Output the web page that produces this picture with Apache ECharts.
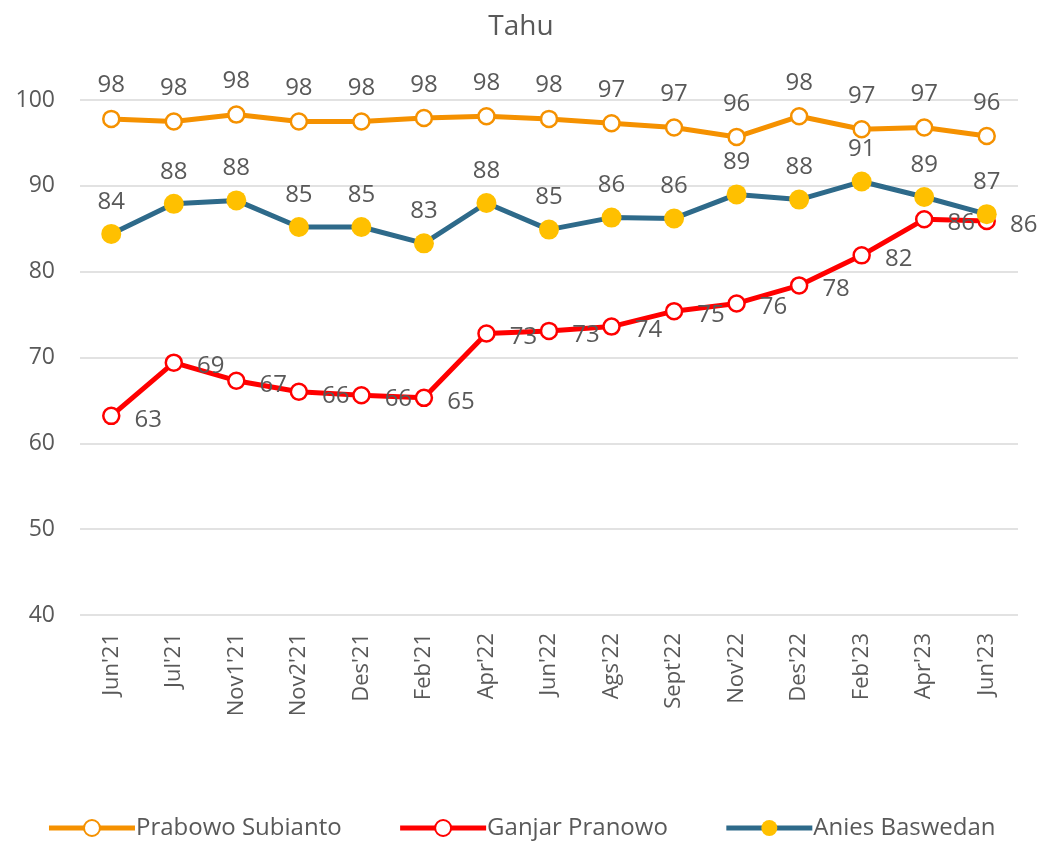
<!DOCTYPE html>
<html>
<head>
<meta charset="UTF-8">
<title>Tahu</title>
<style type="text/css">
html, body {
	margin: 0;
	height: 100%;
	background: #fff;
}
#main {
	width: 1042px;
	height: 845px;
}
</style>
</head>
<body>
	<div id="main"></div>
</body>
<script type="text/javascript" src="https://cdn.jsdelivr.net/npm/echarts@6/dist/echarts.min.js"></script>
<script type="text/javascript">
	// 类目
	var categories = [ "Jun'21", "Jul'21", "Nov1'21", "Nov2'21", "Des'21", "Feb'21", "Apr'22",
		"Jun'22", "Ags'22", "Sept'22", "Nov'22", "Des'22", "Feb'23", "Apr'23", "Jun'23" ];
	// 三条线的数值
	var prabowo = [ 97.8, 97.5, 98.3, 97.5, 97.5, 97.9, 98.1, 97.8, 97.3, 96.8, 95.7, 98.1, 96.6, 96.8, 95.8 ];
	var ganjar = [ 63.2, 69.4, 67.3, 66.0, 65.6, 65.3, 72.8, 73.1, 73.6, 75.4, 76.3, 78.4, 81.9, 86.1, 85.9 ];
	var anies = [ 84.4, 87.9, 88.3, 85.2, 85.2, 83.3, 88.0, 84.9, 86.3, 86.2, 89.0, 88.4, 90.5, 88.7, 86.7 ];

	var font = 'Open Sans';
	var textColor = '#595959';

	var chart = echarts.init(document.getElementById('main'));

	function roundLabel(p) {
		return Math.round(p.value);
	}

	var option = {
		animation : false,
		title : {
			text : 'Tahu',
			left : 'center',
			top : 8,
			textStyle : {
				fontFamily : font,
				fontSize : 28,
				fontWeight : 'normal',
				color : textColor
			}
		},
		legend : {
			bottom : 0,
			left : 'center',
			itemWidth : 86,
			itemHeight : 20,
			itemGap : 56,
			textStyle : {
				fontFamily : font,
				fontSize : 24,
				color : textColor,
				padding : [ 0, 0, 0, -4 ]
			},
			data : [ {
				name : 'Prabowo Subianto',
				lineStyle : { width : 5 }
			}, {
				name : 'Ganjar Pranowo',
				lineStyle : { width : 5 }
			}, {
				name : 'Anies Baswedan',
				lineStyle : { width : 5 }
			} ]
		},
		grid : {
			left : 80,
			right : 24,
			top : 100,
			bottom : 230
		},
		xAxis : {
			type : 'category',
			data : categories,
			boundaryGap : true,
			axisLine : { show : false },
			axisTick : { show : false },
			axisLabel : {
				rotate : 90,
				margin : 18,
				fontFamily : font,
				fontSize : 22,
				color : textColor
			}
		},
		yAxis : {
			type : 'value',
			min : 40,
			max : 100,
			interval : 10,
			axisLine : { show : false },
			axisTick : { show : false },
			axisLabel : {
				margin : 25,
				fontFamily : font,
				fontSize : 23,
				color : textColor
			},
			splitLine : {
				lineStyle : { color : '#d9d9d9', width : 1.5 }
			}
		},
		series : [ {
			name : 'Prabowo Subianto',
			type : 'line',
			data : prabowo,
			symbol : 'circle',
			symbolSize : 16,
			lineStyle : { color : '#F59100', width : 5 },
			itemStyle : { color : '#fff', borderColor : '#F59100', borderWidth : 2.5 },
			label : {
				show : true,
				position : 'top',
				distance : 12,
				formatter : roundLabel,
				fontFamily : font,
				fontSize : 24,
				color : textColor
			},
			z : 3
		}, {
			name : 'Ganjar Pranowo',
			type : 'line',
			data : ganjar,
			symbol : 'circle',
			symbolSize : 16,
			lineStyle : { color : '#FF0000', width : 5 },
			itemStyle : { color : '#fff', borderColor : '#FF0000', borderWidth : 2.5 },
			label : {
				show : true,
				position : 'right',
				distance : 14,
				offset : [ 0, 4 ],
				formatter : roundLabel,
				fontFamily : font,
				fontSize : 24,
				color : textColor
			},
			z : 2
		}, {
			name : 'Anies Baswedan',
			type : 'line',
			data : anies,
			symbol : 'circle',
			symbolSize : 20,
			lineStyle : { color : '#2E6A8A', width : 5 },
			itemStyle : { color : '#FFC000', borderWidth : 0 },
			label : {
				show : true,
				position : 'top',
				distance : 10,
				formatter : roundLabel,
				fontFamily : font,
				fontSize : 24,
				color : textColor
			},
			z : 4
		} ]
	};

	chart.setOption(option);
</script>
</html>
